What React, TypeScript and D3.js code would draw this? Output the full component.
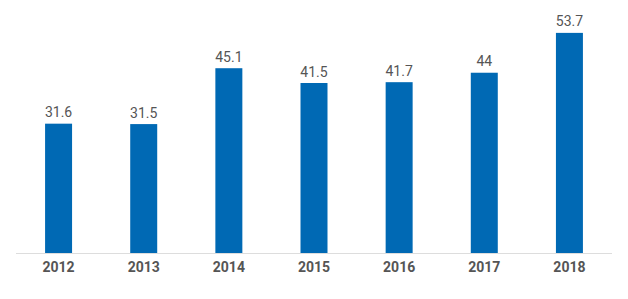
import React from "react";
import * as d3 from "d3";

const years = ["2012", "2013", "2014", "2015", "2016", "2017", "2018"];
const values = [31.6, 31.5, 45.1, 41.5, 41.7, 44, 53.7];

const W = 628;
const H = 299;

export default function App() {
  const x = d3.scaleBand<string>().domain(years).range([16, 612]).paddingInner(0.683).paddingOuter(0.3415);
  const y = d3.scaleLinear().domain([0, 60]).range([253.5, 7]);
  return (
    <svg width={W} height={H} style={{ position: "absolute", left: 0, top: 0 }} fontFamily="Roboto, sans-serif">
      <rect width={W} height={H} fill="#fff" />
      {years.map((yr, i) => (
        <g key={yr}>
          <rect
            x={x(yr)}
            y={y(values[i])}
            width={x.bandwidth()}
            height={y(0) - y(values[i])}
            fill="#0069b4"
          />
          <text
            x={(x(yr) as number) + x.bandwidth() / 2}
            y={y(values[i]) - 6.5}
            textAnchor="middle"
            fontSize={14}
            fill="#555"
          >
            {values[i]}
          </text>
          <text
            x={(x(yr) as number) + x.bandwidth() / 2}
            y={271.5}
            textAnchor="middle"
            fontSize={14}
            fontWeight="bold"
            fill="#555"
          >
            {yr}
          </text>
        </g>
      ))}
      <line x1={16} x2={612} y1={253.5} y2={253.5} stroke="#ddd" strokeWidth={1} />
    </svg>
  );
}
